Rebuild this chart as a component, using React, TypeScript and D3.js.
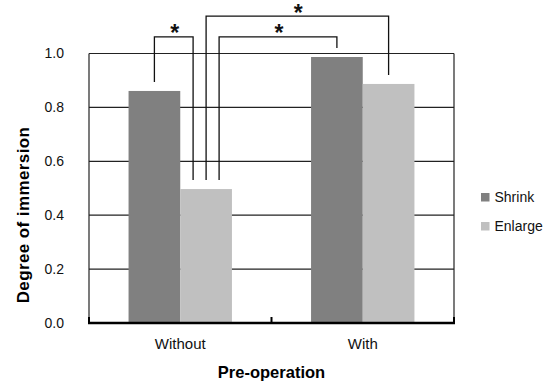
import React, { useEffect, useRef } from "react";
import * as d3 from "d3";

const categories = ["Without", "With"];
const series = ["Shrink", "Enlarge"];
const shrinkValues = [0.861, 0.987];
const enlargeValues = [0.497, 0.887];
const yTicks = [0, 0.2, 0.4, 0.6, 0.8, 1.0];
const colors = ["#808080", "#c0c0c0"];

// significance brackets: [category, series, leg offset px]
const brackets = [
  { from: [0, 0, 0], to: [0, 1, -13], top: 1.062 },
  { from: [0, 1, 0], to: [1, 1, 0], top: 1.139 },
  { from: [0, 1, 13], to: [1, 0, 0], top: 1.062 },
];

const App = () => {
  const ref = useRef<SVGSVGElement>(null);

  useEffect(() => {
    const svg = d3.select(ref.current);
    svg.selectAll("*").remove();

    const width = 553;
    const height = 385;
    const margin = { top: 53.5, right: 99, bottom: 62, left: 89 };
    const font = "'Liberation Sans', Arial, sans-serif";

    const values = [shrinkValues, enlargeValues];
    const data = categories.map((c, i) => ({
      category: c,
      vals: series.map((s, j) => ({ series: s, j, value: values[j][i] })),
    }));

    const x0 = d3
      .scaleBand()
      .domain(categories)
      .range([margin.left, width - margin.right]);

    const x1 = d3
      .scaleBand()
      .domain(series)
      .range([0, x0.bandwidth()])
      .paddingOuter(0.765);

    const y = d3
      .scaleLinear()
      .domain([0, 1])
      .range([height - margin.bottom, margin.top]);

    // gridlines
    svg
      .append("g")
      .selectAll("line")
      .data(yTicks.slice(1))
      .enter()
      .append("line")
      .attr("x1", margin.left)
      .attr("x2", width - margin.right)
      .attr("y1", (d) => y(d))
      .attr("y2", (d) => y(d))
      .attr("stroke", "#222")
      .attr("stroke-width", 1.2);

    // left & right frame
    [margin.left, width - margin.right].forEach((xx) => {
      svg
        .append("line")
        .attr("x1", xx)
        .attr("x2", xx)
        .attr("y1", y(1))
        .attr("y2", y(0))
        .attr("stroke", "#222")
        .attr("stroke-width", 1.2);
    });

    // bars
    svg
      .append("g")
      .selectAll("g")
      .data(data)
      .enter()
      .append("g")
      .attr("transform", (d) => `translate(${x0(d.category)},0)`)
      .selectAll("rect")
      .data((d) => d.vals)
      .enter()
      .append("rect")
      .attr("x", (d) => x1(d.series)!)
      .attr("y", (d) => y(d.value))
      .attr("width", x1.bandwidth())
      .attr("height", (d) => y(0) - y(d.value))
      .attr("fill", (d) => colors[d.j]);

    // bottom axis
    const xAxis = svg
      .append("g")
      .attr("transform", `translate(0,${y(0)})`);
    xAxis
      .append("line")
      .attr("x1", margin.left - 1)
      .attr("x2", width - margin.right + 1)
      .attr("stroke", "#000")
      .attr("stroke-width", 2.4);
    const bounds = [margin.left, margin.left + x0.bandwidth(), width - margin.right];
    xAxis
      .selectAll(".tk")
      .data(bounds)
      .enter()
      .append("line")
      .attr("x1", (d) => d)
      .attr("x2", (d) => d)
      .attr("y1", 0)
      .attr("y2", -6)
      .attr("stroke", "#000")
      .attr("stroke-width", 2);
    xAxis
      .selectAll("text")
      .data(categories)
      .enter()
      .append("text")
      .attr("x", (d) => x0(d)! + x0.bandwidth() / 2)
      .attr("y", 25.5)
      .attr("text-anchor", "middle")
      .attr("font-family", font)
      .attr("font-size", 15)
      .attr("fill", "#111")
      .text((d) => d);

    // y tick labels
    svg
      .append("g")
      .selectAll("text")
      .data(yTicks)
      .enter()
      .append("text")
      .attr("x", 64)
      .attr("y", (d) => y(d))
      .attr("dy", "0.35em")
      .attr("text-anchor", "end")
      .attr("font-family", font)
      .attr("font-size", 14)
      .attr("fill", "#111")
      .text((d) => d3.format(".1f")(d));

    // axis titles
    svg
      .append("text")
      .attr("x", (margin.left + width - margin.right) / 2)
      .attr("y", 378)
      .attr("text-anchor", "middle")
      .attr("font-family", font)
      .attr("font-size", 16.5)
      .attr("font-weight", "bold")
      .text("Pre-operation");

    svg
      .append("text")
      .attr("transform", "translate(28.5,215) rotate(-90)")
      .attr("text-anchor", "middle")
      .attr("font-family", font)
      .attr("font-size", 17)
      .attr("font-weight", "bold")
      .attr("letter-spacing", 0.4)
      .text("Degree of immersion");

    // significance brackets
    const legX = (p: number[]) =>
      x0(categories[p[0]])! + x1(series[p[1]])! + x1.bandwidth() / 2 + p[2];
    const legY = (p: number[]) => y(values[p[1]][p[0]]) - 9;
    const bg = svg.append("g");
    brackets.forEach((b) => {
      const xa = legX(b.from);
      const xb = legX(b.to);
      const yt = y(b.top);
      bg.append("path")
        .attr(
          "d",
          `M${xa},${legY(b.from)}V${yt}H${xb}V${legY(b.to)}`
        )
        .attr("fill", "none")
        .attr("stroke", "#111")
        .attr("stroke-width", 1.3);
      bg.append("text")
        .attr("x", (xa + xb) / 2 + 1)
        .attr("y", yt + 4.5)
        .attr("text-anchor", "middle")
        .attr("font-family", font)
        .attr("font-size", 23)
        .attr("font-weight", "bold")
        .attr("fill", "#111")
        .text("*");
    });

    // legend
    const lg = svg
      .append("g")
      .selectAll("g")
      .data(series)
      .enter()
      .append("g")
      .attr("transform", (d, i) => `translate(481,${193 + i * 29})`);
    lg.append("rect")
      .attr("width", 8.5)
      .attr("height", 8.5)
      .attr("fill", (d, i) => colors[i]);
    lg.append("text")
      .attr("x", 13.5)
      .attr("y", 4.5)
      .attr("dy", "0.35em")
      .attr("font-family", font)
      .attr("font-size", 14)
      .attr("fill", "#111")
      .text((d) => d);
  }, []);

  return (
    <svg
      ref={ref}
      width={553}
      height={385}
      style={{ position: "absolute", left: 0, top: 0, background: "#fff" }}
    ></svg>
  );
};

export default App;
